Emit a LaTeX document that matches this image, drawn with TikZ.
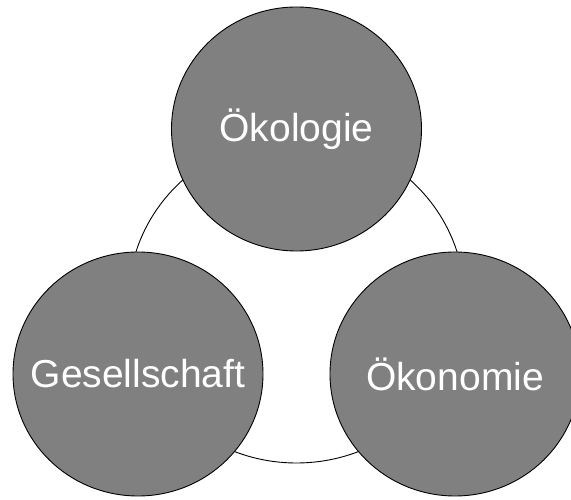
\documentclass[tikz,border=0pt]{standalone}
\usepackage{fontspec}
\setmainfont{Liberation Sans}
\usetikzlibrary{shapes.geometric}

\begin{document}
\begin{tikzpicture}[
            x=1pt, y=1pt,
            pillar/.style={ellipse, draw, line width=0.9pt, fill=gray, inner sep=0pt, minimum width=250pt, minimum height=244pt},
            pillar name/.style={text=white, inner sep=0pt, font=\fontsize{39}{47}\selectfont},
            ring/.style={ellipse, draw, line width=0.9pt, fill=white, inner sep=0pt, minimum width=336pt, minimum height=326pt}
        ]
            \useasboundingbox (0,0) rectangle (571,500);
            \clip (0,0) rectangle (571,500);

            \node [ring] (ring) at (296.5,200) {};

            \node [pillar, label={[pillar name]center:Ökologie}] (oeko) at (296.5,371) {};
            \node [pillar, label={[pillar name]center:Gesellschaft}] (ges) at (138,126) {};
            \node [pillar, label={[pillar name]center:Ökonomie}] (oekon) at (455,126) {};

        \end{tikzpicture}
\end{document}
